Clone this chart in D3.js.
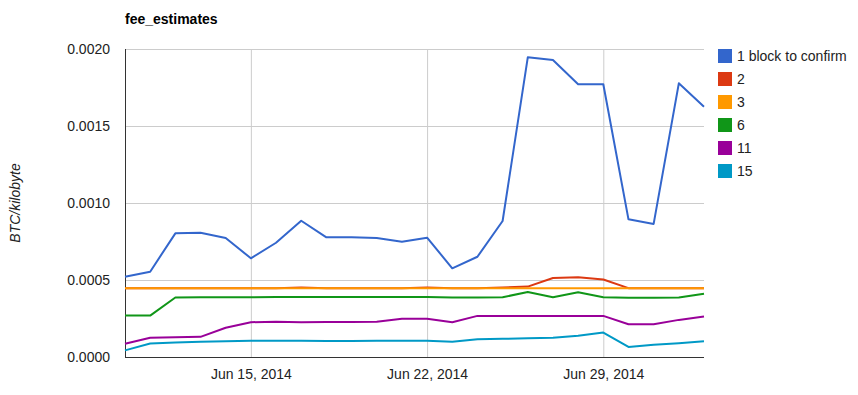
<!DOCTYPE html>
<html>
<head>
<meta charset="utf-8">
<script src="https://cdn.jsdelivr.net/npm/d3@7"></script>
<style>
  body { margin: 0; background: #fff; }
  text { font-family: Arial, "Liberation Sans", sans-serif; }
</style>
</head>
<body>
<script>
// data, one point per day from Jun 10 to Jul 3, 2014
var startDate = "2014-06-10";
var seriesNames = ["1 block to confirm", "2", "3", "6", "11", "15"];
var seriesColors = ["#3366cc", "#dc3912", "#ff9900", "#109618", "#990099", "#0099c6"];

var block1 = [0.000521, 0.000554, 0.000803, 0.000807, 0.000773, 0.000641, 0.000742, 0.000885,
              0.000777, 0.000777, 0.000773, 0.000749, 0.000775, 0.000576, 0.000651, 0.000883,
              0.001946, 0.001929, 0.001771, 0.001771, 0.000894, 0.000864, 0.001777, 0.001625];
var block2 = [0.000447, 0.000447, 0.000447, 0.000447, 0.000447, 0.000447, 0.000447, 0.000452,
              0.000447, 0.000447, 0.000447, 0.000447, 0.000452, 0.000447, 0.000447, 0.000452,
              0.000457, 0.000513, 0.000518, 0.000503, 0.000447, 0.000447, 0.000447, 0.000447];
var block3 = [0.000446, 0.000446, 0.000446, 0.000446, 0.000446, 0.000446, 0.000446, 0.000446,
              0.000446, 0.000446, 0.000446, 0.000446, 0.000446, 0.000446, 0.000446, 0.000446,
              0.000446, 0.000446, 0.000446, 0.000446, 0.000446, 0.000446, 0.000446, 0.000446];
var block6 = [0.000269, 0.000269, 0.000386, 0.000388, 0.000388, 0.000388, 0.000389, 0.000389,
              0.000389, 0.000389, 0.000389, 0.000389, 0.000389, 0.000387, 0.000387, 0.000388,
              0.000422, 0.000388, 0.000420, 0.000388, 0.000384, 0.000384, 0.000386, 0.000411];
var block11 = [0.000086, 0.000125, 0.000129, 0.000131, 0.000190, 0.000226, 0.000229, 0.000226,
               0.000228, 0.000228, 0.000229, 0.000248, 0.000248, 0.000226, 0.000267, 0.000267,
               0.000267, 0.000267, 0.000267, 0.000267, 0.000213, 0.000213, 0.000241, 0.000263];
var block15 = [0.000043, 0.000088, 0.000094, 0.000099, 0.000103, 0.000105, 0.000105, 0.000105,
               0.000104, 0.000104, 0.000105, 0.000105, 0.000105, 0.000099, 0.000116, 0.000118,
               0.000121, 0.000125, 0.000138, 0.000159, 0.000065, 0.000080, 0.000090, 0.000103];
var allSeries = [block1, block2, block3, block6, block11, block15];

var yTicks = [0, 0.0005, 0.0010, 0.0015, 0.0020];
var xTickDates = ["2014-06-15", "2014-06-22", "2014-06-29"];

var width = 858, height = 395;
var plotLeft = 125, plotRight = 704, plotTop = 49, plotBottom = 357;
var fontSize = 14;

var parse = d3.utcParse("%Y-%m-%d");
var start = parse(startDate);
var dates = block1.map(function(d, i) { return d3.utcDay.offset(start, i); });

var x = d3.scaleUtc()
  .domain([dates[0], dates[dates.length - 1]])
  .range([plotLeft, plotRight]);
var y = d3.scaleLinear()
  .domain([0, 0.0020])
  .range([plotBottom, plotTop]);

var svg = d3.select("body").append("svg")
  .attr("width", width)
  .attr("height", height);

// title
svg.append("text")
  .attr("x", plotLeft)
  .attr("y", 24)
  .attr("font-size", fontSize)
  .attr("font-weight", "bold")
  .attr("fill", "#000")
  .text("fee_estimates");

// horizontal gridlines + y labels
var yAxis = d3.axisLeft(y)
  .tickValues(yTicks)
  .tickSize(-(plotRight - plotLeft))
  .tickPadding(15)
  .tickFormat(d3.format(".4f"));
var gy = svg.append("g")
  .attr("transform", "translate(" + plotLeft + ",0)")
  .call(yAxis);
gy.select(".domain").remove();
gy.selectAll(".tick line").attr("stroke", "#cccccc");
gy.selectAll(".tick text")
  .attr("font-size", fontSize)
  .attr("font-family", "Arial, 'Liberation Sans', sans-serif")
  .attr("fill", "#222");

// vertical gridlines + x labels
var xAxis = d3.axisBottom(x)
  .tickValues(xTickDates.map(parse))
  .tickSize(-(plotBottom - plotTop))
  .tickPadding(12)
  .tickFormat(d3.utcFormat("%b %-d, %Y"));
var gx = svg.append("g")
  .attr("transform", "translate(0," + plotBottom + ")")
  .call(xAxis);
gx.select(".domain").remove();
gx.selectAll(".tick line").attr("stroke", "#cccccc");
gx.selectAll(".tick text")
  .attr("font-size", fontSize)
  .attr("font-family", "Arial, 'Liberation Sans', sans-serif")
  .attr("fill", "#222");

// axis lines
svg.append("line")
  .attr("x1", plotLeft + 0.5).attr("x2", plotLeft + 0.5)
  .attr("y1", plotTop).attr("y2", plotBottom)
  .attr("stroke", "#333").attr("stroke-width", 1);
svg.append("line")
  .attr("x1", plotLeft).attr("x2", plotRight)
  .attr("y1", plotBottom + 0.5).attr("y2", plotBottom + 0.5)
  .attr("stroke", "#333").attr("stroke-width", 1);

// y axis title
svg.append("text")
  .attr("transform", "translate(20," + ((plotTop + plotBottom) / 2) + ") rotate(-90)")
  .attr("text-anchor", "middle")
  .attr("font-size", fontSize)
  .attr("font-style", "italic")
  .attr("fill", "#222")
  .text("BTC/kilobyte");

// lines
var line = d3.line()
  .x(function(d, i) { return x(dates[i]); })
  .y(function(d) { return y(d); });

allSeries.forEach(function(s, k) {
  svg.append("path")
    .datum(s)
    .attr("d", line)
    .attr("fill", "none")
    .attr("stroke", seriesColors[k])
    .attr("stroke-width", 2)
    .attr("stroke-linejoin", "round");
});

// legend
var legend = svg.append("g").attr("transform", "translate(718,49)");
seriesNames.forEach(function(name, k) {
  var row = legend.append("g").attr("transform", "translate(0," + (k * 23) + ")");
  row.append("rect")
    .attr("width", 14).attr("height", 14)
    .attr("fill", seriesColors[k]);
  row.append("text")
    .attr("x", 19)
    .attr("y", 12)
    .attr("font-size", fontSize)
    .attr("fill", "#222")
    .text(name);
});
</script>
</body>
</html>
